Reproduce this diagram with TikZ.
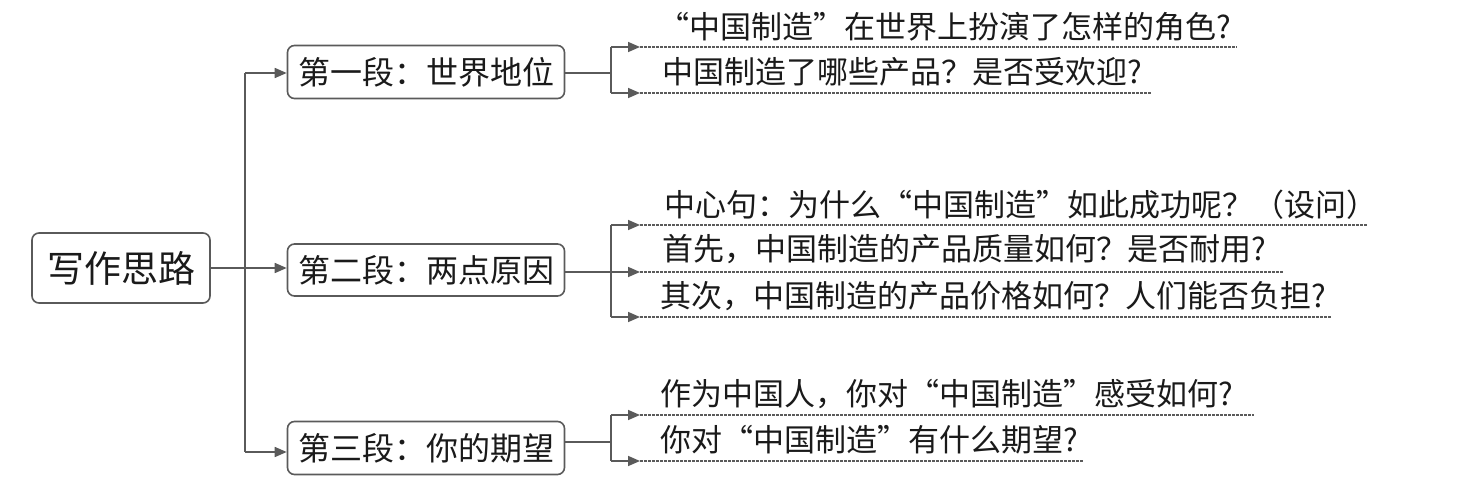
\documentclass[tikz,border=0pt]{standalone}
\usepackage{fontspec}
\setmainfont{Noto Sans CJK SC}
\usetikzlibrary{arrows.meta}
\definecolor{lineg}{HTML}{5A5A5A}
\definecolor{txt}{HTML}{1A1A1A}
\tikzset{
  box/.style={draw=lineg, line width=1.6pt, rounded corners=7pt, inner sep=0pt, text=txt},
  conn/.style={draw=lineg, line width=1.6pt},
  arr/.style={conn, -{Triangle[length=12pt,width=10pt]}},
  uline/.style={draw=lineg, line width=1.1pt, dash pattern=on 3pt off 1pt},
  qtext/.style={anchor=west, inner sep=0pt, text=txt, font=\fontsize{31}{31}\selectfont},
}
\begin{document}
\begin{tikzpicture}[x=1pt,y=-1pt]
\useasboundingbox (0,0) rectangle (1479,489);
% main boxes
\node[box, minimum width=178pt, minimum height=70pt, font=\fontsize{37}{37}\selectfont] (root) at (121,268) {写作思路};
\node[box, minimum width=277pt, minimum height=53pt, font=\fontsize{32}{32}\selectfont] (b1) at (426,72) {第一段：世界地位};
\node[box, minimum width=277pt, minimum height=52pt, font=\fontsize{32}{32}\selectfont] (b2) at (426,270) {第二段：两点原因};
\node[box, minimum width=277pt, minimum height=53pt, font=\fontsize{32}{32}\selectfont] (b3) at (426,448) {第三段：你的期望};
% trunk
\coordinate (t1) at (245,73);
\coordinate (t2) at (245,268);
\coordinate (t3) at (245,452);
\draw[conn] (t1) -- (t3);
\draw[conn] (root.east |- t2) -- (t2);
\draw[arr] (t1) -- (t1 -| b1.west);
\draw[arr] (t2) -- (t2 -| b2.west);
\draw[arr] (t3) -- (t3 -| b3.west);
% group 1
\coordinate (j1) at (611,73);
\coordinate (j1a) at (611,47);
\coordinate (j1b) at (611,93);
\coordinate (s1a) at (640,47); \coordinate (e1a) at (1237,47);
\coordinate (s1b) at (640,93); \coordinate (e1b) at (1152,93);
\draw[conn] (b1.east |- j1) -- (j1);
\draw[conn] (j1a) -- (j1b);
\draw[arr] (j1a) -- (s1a);
\draw[arr] (j1b) -- (s1b);
\draw[uline] (s1a) -- (e1a);
\draw[uline] (s1b) -- (e1b);
\node[qtext] (q1a) at (658,27) {“中国制造”在世界上扮演了怎样的角色?};
\node[qtext] (q1b) at (662,72) {中国制造了哪些产品？是否受欢迎?};
% group 2
\coordinate (j2) at (611,272);
\coordinate (j2a) at (611,225);
\coordinate (j2c) at (611,317);
\coordinate (s2a) at (640,225); \coordinate (e2a) at (1368,225);
\coordinate (s2b) at (640,272); \coordinate (e2b) at (1283,272);
\coordinate (s2c) at (640,317); \coordinate (e2c) at (1332,317);
\draw[conn] (b2.east |- j2) -- (j2);
\draw[conn] (j2a) -- (j2c);
\draw[arr] (j2a) -- (s2a);
\draw[arr] (j2) -- (s2b);
\draw[arr] (j2c) -- (s2c);
\draw[uline] (s2a) -- (e2a);
\draw[uline] (s2b) -- (e2b);
\draw[uline] (s2c) -- (e2c);
\node[qtext] (q2a) at (664,205) {中心句：为什么“中国制造”如此成功呢？（设问）};
\node[qtext] (q2b) at (662,249) {首先，中国制造的产品质量如何？是否耐用?};
\node[qtext] (q2c) at (660,296) {其次，中国制造的产品价格如何？人们能否负担?};
% group 3
\coordinate (j3) at (611,442);
\coordinate (j3a) at (611,415);
\coordinate (j3b) at (611,461);
\coordinate (s3a) at (640,415); \coordinate (e3a) at (1254,415);
\coordinate (s3b) at (640,461); \coordinate (e3b) at (1083,461);
\draw[conn] (b3.east |- j3) -- (j3);
\draw[conn] (j3a) -- (j3b);
\draw[arr] (j3a) -- (s3a);
\draw[arr] (j3b) -- (s3b);
\draw[uline] (s3a) -- (e3a);
\draw[uline] (s3b) -- (e3b);
\node[qtext] (q3a) at (660,394) {作为中国人，你对“中国制造”感受如何?};
\node[qtext] (q3b) at (660,440) {你对“中国制造”有什么期望?};
\end{tikzpicture}
\end{document}
